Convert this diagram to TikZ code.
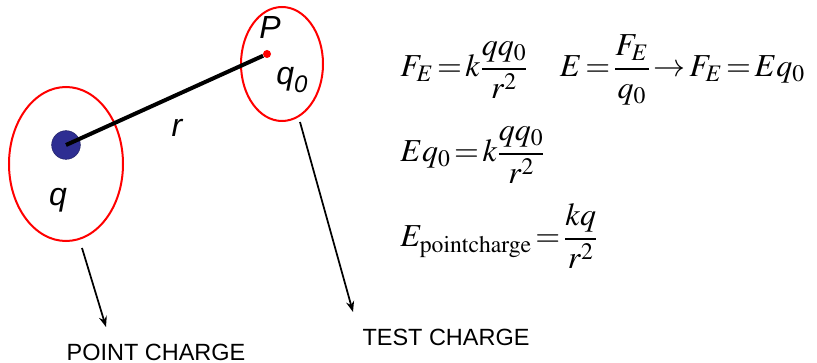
\documentclass[tikz,border=0pt]{standalone}
\usepackage{mathptmx}
\usepackage[no-math]{fontspec}
\newfontfamily\labelfont{Liberation Sans}
\usetikzlibrary{shapes.geometric,arrows.meta}

\definecolor{chargeblue}{RGB}{46,46,146}
\newcommand\tighteq{\thickmuskip=2mu\relax\displaystyle}

\begin{document}
\begin{tikzpicture}[x=0.75pt, y=-0.75pt,
    ring/.style={draw=red, line width=1.5pt, ellipse, inner sep=0pt},
    lbl/.style={font=\labelfont\itshape\fontsize{24}{28}\selectfont, inner sep=0pt},
    caption/.style={font=\labelfont\fontsize{17.6}{20}\selectfont, inner sep=0pt},
    eqn/.style={anchor=base west, inner sep=0pt, font=\fontsize{24}{28}\selectfont},
    pointer/.style={-{Stealth[length=8pt,width=6pt]}, line width=1.3pt}]
    \useasboundingbox (0,0) rectangle (817,363);

    % the two charges
    \node[ring, minimum width=85.5pt, minimum height=115.5pt] (qring) at (66,164) {};
    \node[ring, minimum width=61.5pt, minimum height=85.5pt] (pring) at (282,64) {};
    \node[circle, fill=chargeblue, draw=chargeblue!70!black, minimum size=21.5pt, inner sep=0pt] (qdot) at (66,145) {};
    \node[circle, fill=red, minimum size=6pt, inner sep=0pt] (pdot) at (267,54) {};
    \draw[line width=3pt] (qdot.center) -- (pdot);

    \node[lbl] (plabel) at (270,27) {P};
    \node[lbl] (q0label) at (292,80) {q\raisebox{-0.45ex}{\fontsize{18}{20}\selectfont 0}};
    \node[lbl] (rlabel) at (177,128) {r};
    \node[lbl] (qlabel) at (58,200) {q};

    % pointers to the captions
    \coordinate (qtail) at (82,248);
    \coordinate (qhead) at (106,327);
    \coordinate (ptail) at (300,122);
    \coordinate (phead) at (353,312);
    \draw[pointer] (qtail) -- (qhead);
    \draw[pointer] (ptail) -- (phead);
    \node[caption] (pointcap) at (156,352) {POINT CHARGE};
    \node[caption] (testcap) at (446,337) {TEST CHARGE};

    % equations
    \node[eqn] (force) at (400,77) {$\tighteq F_E=k\frac{qq_0}{r^2}\quad E=\frac{F_E}{q_0}\rightarrow F_E=Eq_0$};
    \node[eqn] (field) at (400,162) {$\tighteq Eq_0=k\frac{qq_0}{r^2}$};
    \node[eqn] (point) at (400,247) {$\tighteq E_{\mathrm{pointcharge}}=\frac{kq}{r^2}$};
\end{tikzpicture}
\end{document}
